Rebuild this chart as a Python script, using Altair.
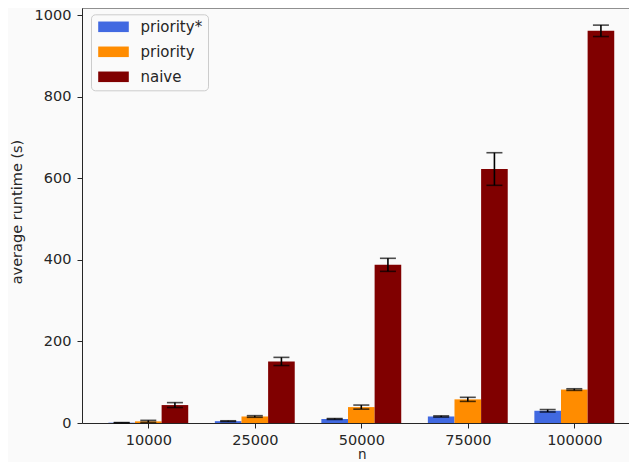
import altair as alt
import pandas as pd

n_labels = ["10000", "25000", "50000", "75000", "100000"]
series = ["priority*", "priority", "naive"]
colors = ["#4169E1", "#FF8C00", "#800000"]

priority_star = [0.8, 4.5, 10, 16, 30]
priority_star_err = [0.3, 1.0, 1.2, 1.5, 3]
priority = [4, 16, 39, 58, 82]
priority_err = [2.5, 2, 5, 5, 2]
naive = [44, 151, 388, 623, 962]
naive_err = [6, 10, 16, 40, 14]

rows = []
for s_i, (name, vals, errs) in enumerate(
    zip(series, [priority_star, priority, naive], [priority_star_err, priority_err, naive_err])
):
    for g, (v, e) in enumerate(zip(vals, errs)):
        rows.append({"series": name, "order": s_i, "g": g, "value": v, "err": e})
df = pd.DataFrame(rows)

FONT = "DejaVu Sans"
FS = 14.5
TXT = "#262626"
W, H = 547, 415

xscale = alt.Scale(domain=[-0.6225, 4.5136], nice=False, zero=False)
yscale = alt.Scale(domain=[0, 1018], nice=False)

label_expr = "[" + ",".join("'%s'" % s for s in n_labels) + "][datum.value]"

base = alt.Chart(df).transform_calculate(
    pos="datum.g + (datum.order - 1) * 0.25",
    x0="datum.g + (datum.order - 1) * 0.25 - 0.125",
    x1="datum.g + (datum.order - 1) * 0.25 + 0.125",
    lo="datum.value - datum.err",
    hi="datum.value + datum.err",
)

bars = base.mark_bar().encode(
    x=alt.X(
        "x0:Q",
        scale=xscale,
        axis=alt.Axis(
            values=[0, 1, 2, 3, 4],
            labelExpr=label_expr,
            title="n",
            grid=False,
            tickSize=5,
            labelPadding=5,
            titleX=279.7,
            titleY=38.5,
            titleFontSize=13.5,
            titleBaseline="bottom",
        ),
    ),
    x2="x1:Q",
    y=alt.Y(
        "value:Q",
        scale=yscale,
        axis=alt.Axis(
            values=[0, 200, 400, 600, 800, 1000],
            format="d",
            title="average runtime (s)",
            grid=False,
            tickSize=5,
            labelPadding=6,
            titleX=-65,
            titleY=203.5,
            titleBaseline="middle",
            titleAngle=-90,
        ),
    ),
    y2=alt.datum(0),
    color=alt.Color(
        "series:N",
        scale=alt.Scale(domain=series, range=colors),
        legend=alt.Legend(
            title=None,
            orient="none",
            legendX=9,
            legendY=6.3,
            symbolType="M-2.55,-0.88H2.55V0.88H-2.55Z",
            symbolSize=144,
            symbolStrokeWidth=0,
            symbolOffset=10,
            labelFont=FONT,
            labelFontSize=15,
            labelColor=TXT,
            labelOffset=19.5,
            rowPadding=9,
            padding=5,
            fillColor="#fafafa",
            strokeColor="#cccccc",
            cornerRadius=4,
        ),
    ),
)

rules = base.mark_rule(color="black", strokeWidth=1.6).encode(
    x=alt.X("pos:Q", scale=xscale), y=alt.Y("lo:Q", scale=yscale), y2="hi:Q"
)
cap_lo = base.mark_tick(color="black", orient="horizontal", size=16, thickness=1.6).encode(
    x=alt.X("pos:Q", scale=xscale), y=alt.Y("lo:Q", scale=yscale)
)
cap_hi = base.mark_tick(color="black", orient="horizontal", size=16, thickness=1.6).encode(
    x=alt.X("pos:Q", scale=xscale), y=alt.Y("hi:Q", scale=yscale)
)

top_spine = (
    alt.Chart(pd.DataFrame({"k": [0]}))
    .mark_rule(color=TXT, strokeWidth=1)
    .encode(x=alt.value(0), x2=alt.value(W), y=alt.value(0))
)

chart = (
    alt.layer(bars, rules, cap_lo, cap_hi, top_spine)
    .properties(
        width=W,
        height=H,
        autosize=alt.AutoSizeParams(type="none"),
        padding={"left": 74, "top": 0, "right": 0, "bottom": 39},
        background="#fafafa",
    )
    .configure_view(stroke=None)
    .configure_axis(
        labelFont=FONT,
        labelFontSize=FS,
        labelColor=TXT,
        titleFont=FONT,
        titleFontSize=FS,
        titleFontWeight="normal",
        titleColor=TXT,
        domainColor=TXT,
        tickColor=TXT,
        domainWidth=1,
        tickWidth=1,
    )
)

chart.save("out.html", embed_options={"renderer": "svg", "actions": False})
